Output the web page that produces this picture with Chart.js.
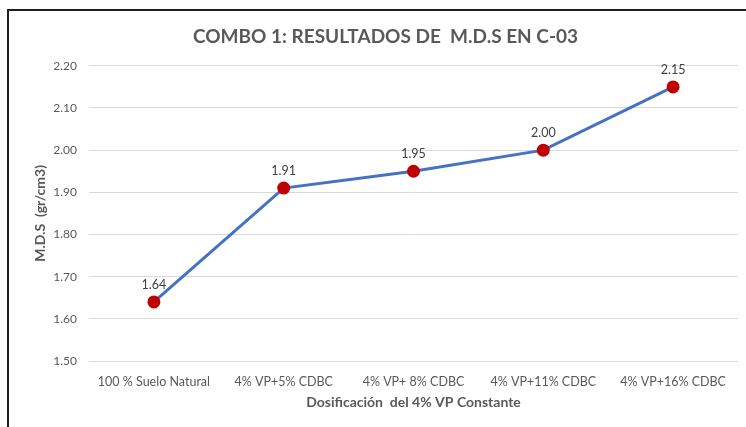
<!DOCTYPE html>
<html>
<head>
<meta charset="utf-8">
<script src="https://cdn.jsdelivr.net/npm/chart.js@4"></script>
<style>
  html, body { margin:0; padding:0; background:#fff; }
  #wrap { position:relative; width:746px; height:427px; overflow:hidden; }
  #frame { position:absolute; left:7px; top:9px; width:800px; height:500px;
           border-left:2px solid #1e1e1e; border-top:2px solid #1e1e1e; pointer-events:none; }
</style>
</head>
<body>
<div id="wrap">
  <canvas id="chart" width="746" height="427"></canvas>
  <div id="frame"></div>
</div>
<script>
const categories = ["100 % Suelo Natural", "4% VP+5% CDBC", "4% VP+ 8% CDBC", "4% VP+11% CDBC", "4% VP+16% CDBC"];
const mdsValues = [1.64, 1.91, 1.95, 2.00, 2.15];
const yTicks = [1.50, 1.60, 1.70, 1.80, 1.90, 2.00, 2.10, 2.20];

const FONT = "Lato, 'Open Sans', sans-serif";

// value labels above each point
const pointLabels = {
  id: "pointLabels",
  afterDatasetsDraw(chart) {
    const ctx = chart.ctx;
    const meta = chart.getDatasetMeta(0);
    ctx.save();
    ctx.font = "12.5px " + FONT;
    ctx.fillStyle = "#404040";
    ctx.textAlign = "center";
    ctx.textBaseline = "bottom";
    meta.data.forEach((pt, i) => {
      ctx.fillText(mdsValues[i].toFixed(2), pt.x, pt.y - 11);
    });
    ctx.restore();
  }
};

new Chart(document.getElementById("chart"), {
  type: "line",
  data: {
    labels: categories,
    datasets: [{
      data: mdsValues,
      borderColor: "#4472C4",
      borderWidth: 3,
      pointRadius: 5,
      pointHoverRadius: 5,
      pointBackgroundColor: "#C00000",
      pointBorderColor: "#C00000",
      tension: 0
    }]
  },
  options: {
    responsive: false,
    animation: false,
    events: [],
    layout: { padding: { left: 30, right: 5, top: 0, bottom: 13 } },
    plugins: {
      legend: { display: false },
      tooltip: { enabled: false },
      title: {
        display: true,
        text: "COMBO 1: RESULTADOS DE  M.D.S EN C-03",
        color: "#595959",
        font: { family: FONT, size: 19, weight: "bold" },
        padding: { top: 25, bottom: 18 }
      }
    },
    scales: {
      x: {
        offset: true,
        afterFit(scale) { scale.height = 53; },
        grid: { display: false, drawTicks: false },
        border: { display: false },
        ticks: { color: "#595959", font: { family: FONT, size: 12.5 }, padding: 13, maxRotation: 0, autoSkip: false },
        title: {
          display: true,
          text: "Dosificación  del 4% VP Constante",
          color: "#595959",
          font: { family: FONT, size: 14, weight: "bold" },
          padding: { top: 6, bottom: 3 }
        }
      },
      y: {
        min: 1.5,
        max: 2.2,
        afterBuildTicks(scale) { scale.ticks = yTicks.map(v => ({ value: v })); },
        afterFit(scale) { scale.width = 59; },
        grid: { color: "#d9d9d9", lineWidth: 1, drawTicks: false },
        border: { display: false },
        ticks: {
          color: "#595959",
          font: { family: FONT, size: 12 },
          padding: 12,
          callback: v => v.toFixed(2)
        },
        title: {
          display: true,
          text: "M.D.S  (gr/cm3)",
          color: "#595959",
          font: { family: FONT, size: 14, weight: "bold" },
          padding: { top: 2, bottom: 4 }
        }
      }
    }
  },
  plugins: [pointLabels]
});
</script>
</body>
</html>
